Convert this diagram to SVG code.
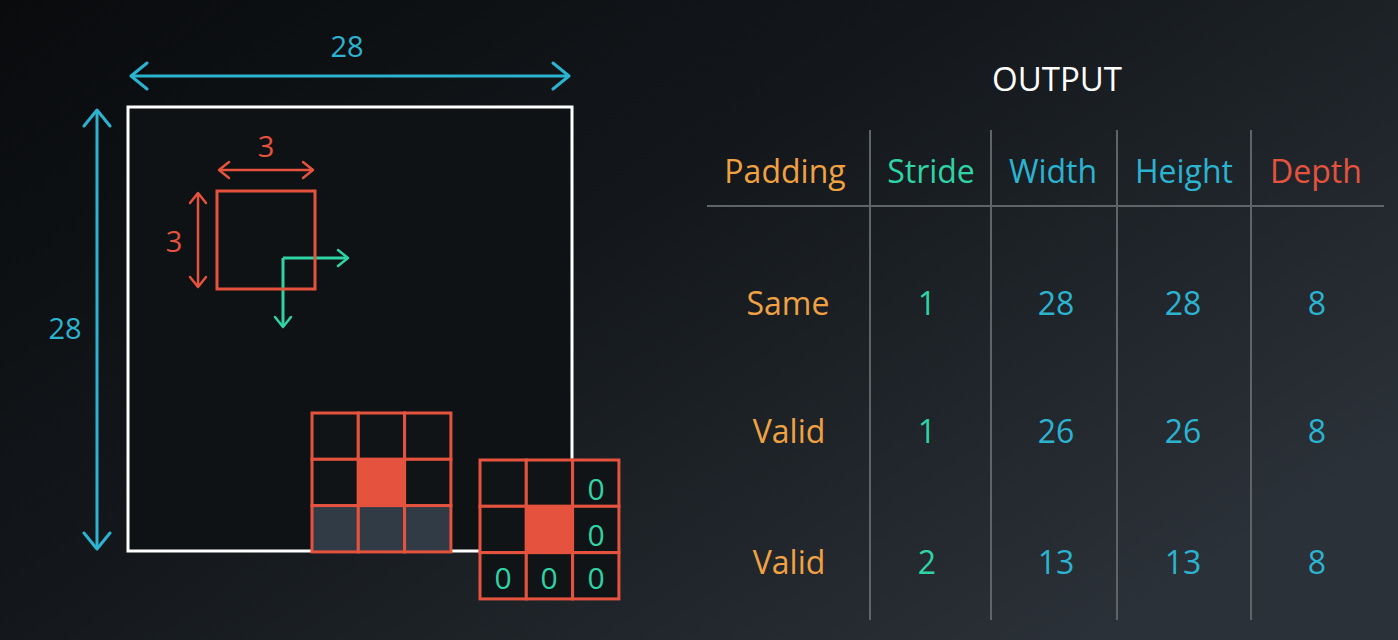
<svg xmlns="http://www.w3.org/2000/svg" width="1398" height="640" viewBox="0 0 1398 640">
<defs>
<linearGradient id="bg" x1="0" y1="0" x2="1" y2="0.7">
<stop offset="0" stop-color="#090b0d"/>
<stop offset="0.45" stop-color="#13171b"/>
<stop offset="1" stop-color="#2b3138"/>
</linearGradient>
<marker id="ac" viewBox="0 0 20 30" refX="18" refY="15" markerWidth="20" markerHeight="30" markerUnits="userSpaceOnUse" orient="auto-start-reverse">
<path d="M2,2 L18,15 L2,28" fill="none" stroke="#2bb3d0" stroke-width="3" stroke-linecap="round" stroke-linejoin="round"/>
</marker>
<marker id="ar" viewBox="0 0 14 20" refX="12" refY="10" markerWidth="14" markerHeight="20" markerUnits="userSpaceOnUse" orient="auto-start-reverse">
<path d="M2,2 L12,10 L2,18" fill="none" stroke="#e5533f" stroke-width="2.5" stroke-linecap="round" stroke-linejoin="round"/>
</marker>
<marker id="ag" viewBox="0 0 14 20" refX="12" refY="10" markerWidth="14" markerHeight="20" markerUnits="userSpaceOnUse" orient="auto">
<path d="M2,2 L12,10 L2,18" fill="none" stroke="#2fd3a5" stroke-width="2.5" stroke-linecap="round" stroke-linejoin="round"/>
</marker>
</defs>
<style>
text{font-family:"Open Sans","Noto Sans","Liberation Sans",sans-serif;text-anchor:middle;dominant-baseline:central}
.cy{fill:#2bb3d0}.rd{fill:#e5533f}.gr{fill:#2fd3a5}.or{fill:#f0a243}.wh{fill:#ffffff}
.dim{font-size:29px}
.hd{font-size:32px}
.cell{font-size:32px}
.zero{font-size:30px;fill:#2fd3a5}
.grid rect{fill:#111417;stroke:#e5533f;stroke-width:3}
.tl{stroke:#5f6469;stroke-width:2}
</style>
<rect width="1398" height="640" fill="url(#bg)"/>

<g id="input">
<rect x="128" y="107" width="444" height="444" fill="#0f1215" stroke="#ffffff" stroke-width="3"/>
</g>

<g id="connectors">
<line x1="131" y1="76" x2="569" y2="76" stroke="#2bb3d0" stroke-width="3" marker-start="url(#ac)" marker-end="url(#ac)"/>
<line x1="97" y1="110" x2="97" y2="549" stroke="#2bb3d0" stroke-width="3" marker-start="url(#ac)" marker-end="url(#ac)"/>
<line x1="219" y1="170" x2="313" y2="170" stroke="#e5533f" stroke-width="2.5" marker-start="url(#ar)" marker-end="url(#ar)"/>
<line x1="198" y1="193" x2="198" y2="287" stroke="#e5533f" stroke-width="2.5" marker-start="url(#ar)" marker-end="url(#ar)"/>
<path d="M283,258 L348,258" fill="none" stroke="#2fd3a5" stroke-width="3" marker-end="url(#ag)"/>
<path d="M283,258 L283,327" fill="none" stroke="#2fd3a5" stroke-width="3" marker-end="url(#ag)"/>
</g>

<g id="labels">
<text class="dim cy" x="347" y="45">28</text>
<text class="dim cy" x="65" y="327">28</text>
<text class="dim rd" x="266" y="145">3</text>
<text class="dim rd" x="174" y="240">3</text>
</g>

<g id="filter">
<rect x="217" y="191" width="98" height="98" fill="none" stroke="#e5533f" stroke-width="3"/>
</g>

<g id="grid-valid" class="grid">
<rect x="312" y="413" width="46.3" height="46.3"/>
<rect x="358.3" y="413" width="46.3" height="46.3"/>
<rect x="404.6" y="413" width="46.3" height="46.3"/>
<rect x="312" y="459.3" width="46.3" height="46.3"/>
<rect x="358.3" y="459.3" width="46.3" height="46.3" style="fill:#e5533f"/>
<rect x="404.6" y="459.3" width="46.3" height="46.3"/>
<rect x="312" y="505.6" width="46.3" height="46.3" style="fill:#303b45"/>
<rect x="358.3" y="505.6" width="46.3" height="46.3" style="fill:#303b45"/>
<rect x="404.6" y="505.6" width="46.3" height="46.3" style="fill:#303b45"/>
</g>

<g id="grid-same" class="grid">
<rect x="480" y="460" width="46.3" height="46.3"/>
<rect x="526.3" y="460" width="46.3" height="46.3"/>
<rect x="572.6" y="460" width="46.3" height="46.3"/>
<rect x="480" y="506.3" width="46.3" height="46.3"/>
<rect x="526.3" y="506.3" width="46.3" height="46.3" style="fill:#e5533f"/>
<rect x="572.6" y="506.3" width="46.3" height="46.3"/>
<rect x="480" y="552.6" width="46.3" height="46.3"/>
<rect x="526.3" y="552.6" width="46.3" height="46.3"/>
<rect x="572.6" y="552.6" width="46.3" height="46.3"/>
<text class="zero" x="596" y="488">0</text>
<text class="zero" x="596" y="534">0</text>
<text class="zero" x="503" y="577">0</text>
<text class="zero" x="549" y="577">0</text>
<text class="zero" x="596" y="577">0</text>
</g>

<g id="table">
<text class="wh" x="1057" y="78" style="font-size:33px">OUTPUT</text>
<line class="tl" x1="870" y1="130" x2="870" y2="620"/>
<line class="tl" x1="991" y1="130" x2="991" y2="620"/>
<line class="tl" x1="1117" y1="130" x2="1117" y2="620"/>
<line class="tl" x1="1251" y1="130" x2="1251" y2="620"/>
<line class="tl" x1="707" y1="206" x2="1384" y2="206"/>
<text class="hd or" x="785" y="170">Padding</text>
<text class="hd gr" x="931" y="170">Stride</text>
<text class="hd cy" x="1053" y="170">Width</text>
<text class="hd cy" x="1184" y="170">Height</text>
<text class="hd rd" x="1316" y="170">Depth</text>

<text class="cell or" x="788" y="302">Same</text>
<text class="cell gr" x="927" y="302">1</text>
<text class="cell cy" x="1056" y="302">28</text>
<text class="cell cy" x="1183" y="302">28</text>
<text class="cell cy" x="1317" y="302">8</text>

<text class="cell or" x="789" y="430">Valid</text>
<text class="cell gr" x="927" y="430">1</text>
<text class="cell cy" x="1056" y="430">26</text>
<text class="cell cy" x="1183" y="430">26</text>
<text class="cell cy" x="1317" y="430">8</text>

<text class="cell or" x="789" y="561">Valid</text>
<text class="cell gr" x="927" y="561">2</text>
<text class="cell cy" x="1056" y="561">13</text>
<text class="cell cy" x="1183" y="561">13</text>
<text class="cell cy" x="1317" y="561">8</text>
</g>
</svg>
